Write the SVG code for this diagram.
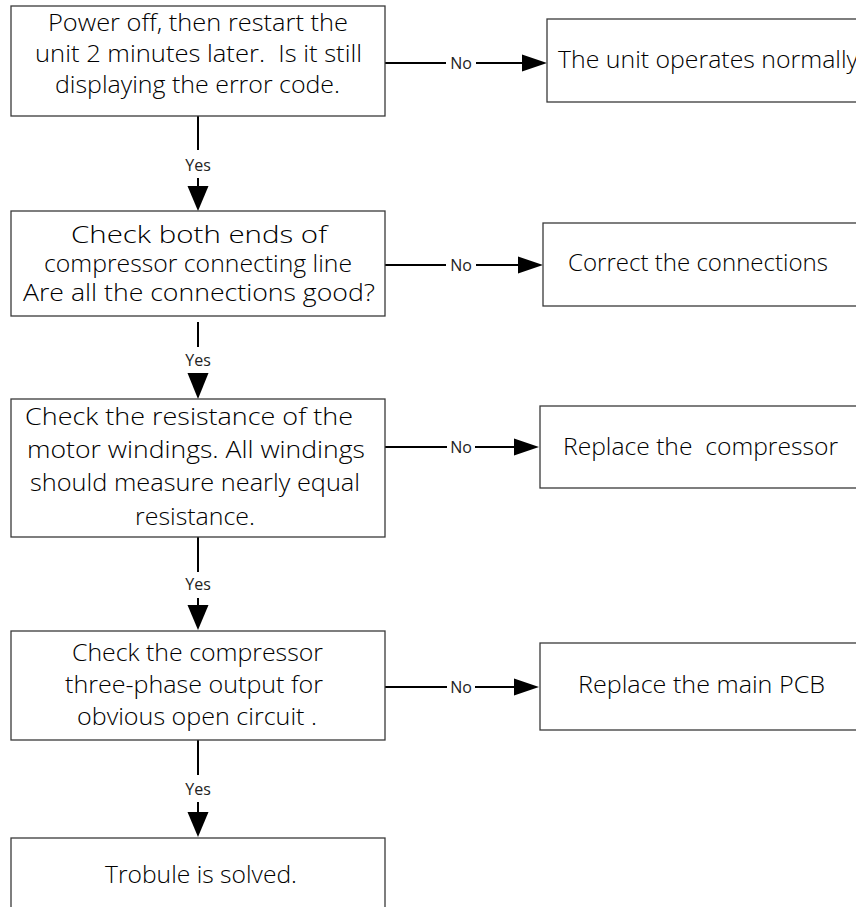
<svg xmlns="http://www.w3.org/2000/svg" width="856" height="907" viewBox="0 0 856 907">
<style>
.box{fill:#fff;stroke:#3a3a3a;stroke-width:1.3}
.t{font-family:"Open Sans","Noto Sans",sans-serif;font-size:23px;font-weight:300;fill:#000;white-space:pre}
.lbl{font-family:"Open Sans","Noto Sans",sans-serif;font-size:16px;font-weight:400;fill:#222;text-anchor:middle}
.ln{stroke:#000;stroke-width:2;fill:none}
.ah{fill:#000}
</style>
<rect width="856" height="907" fill="#fff"/>
<g id="connectors">
  <line class="ln" x1="385" y1="63" x2="446" y2="63"/>
  <text class="lbl" x="461" y="69">No</text>
  <line class="ln" x1="476" y1="63" x2="524" y2="63"/>
  <polygon class="ah" points="522,54.5 547,63 522,71.5"/>
  <line class="ln" x1="385" y1="265" x2="446" y2="265"/>
  <text class="lbl" x="461" y="271">No</text>
  <line class="ln" x1="476" y1="265" x2="520" y2="265"/>
  <polygon class="ah" points="518,256.5 543,265 518,273.5"/>
  <line class="ln" x1="385" y1="447" x2="447" y2="447"/>
  <text class="lbl" x="461" y="453">No</text>
  <line class="ln" x1="475" y1="447" x2="516" y2="447"/>
  <polygon class="ah" points="514,438.5 539,447 514,455.5"/>
  <line class="ln" x1="385" y1="687" x2="447" y2="687"/>
  <text class="lbl" x="461" y="693">No</text>
  <line class="ln" x1="475" y1="687" x2="516" y2="687"/>
  <polygon class="ah" points="514,678.5 539,687 514,695.5"/>
  <line class="ln" x1="198" y1="116" x2="198" y2="150"/>
  <text class="lbl" x="198" y="171">Yes</text>
  <line class="ln" x1="198" y1="178" x2="198" y2="188"/>
  <polygon class="ah" points="187.5,186 208.5,186 198,211"/>
  <line class="ln" x1="198" y1="322" x2="198" y2="347"/>
  <text class="lbl" x="198" y="366">Yes</text>
  <polygon class="ah" points="187.5,373 208.5,373 198,399"/>
  <line class="ln" x1="198" y1="537" x2="198" y2="572"/>
  <text class="lbl" x="198" y="590">Yes</text>
  <line class="ln" x1="198" y1="598" x2="198" y2="607"/>
  <polygon class="ah" points="187.5,605 208.5,605 198,630"/>
  <line class="ln" x1="198" y1="740" x2="198" y2="775"/>
  <text class="lbl" x="198" y="795">Yes</text>
  <line class="ln" x1="198" y1="802" x2="198" y2="814"/>
  <polygon class="ah" points="187.5,812 208.5,812 198,837"/>
</g>
<g id="n1">
  <rect class="box" x="11" y="6" width="374" height="110"/>
  <text class="t" x="48" y="31" textLength="300" lengthAdjust="spacingAndGlyphs">Power off, then restart the</text>
  <text class="t" x="35" y="62" textLength="327" lengthAdjust="spacingAndGlyphs">unit 2 minutes later.  Is it still</text>
  <text class="t" x="55" y="93" textLength="285" lengthAdjust="spacingAndGlyphs">displaying the error code.</text>
</g>
<g id="n1no">
  <rect class="box" x="547" y="19" width="330" height="83"/>
  <text class="t" x="558" y="68" textLength="300" lengthAdjust="spacingAndGlyphs">The unit operates normally</text>
</g>
<g id="n2">
  <rect class="box" x="11" y="211" width="374" height="105"/>
  <text class="t" x="71" y="243" textLength="256" lengthAdjust="spacingAndGlyphs">Check both ends of</text>
  <text class="t" x="44" y="272" textLength="308" lengthAdjust="spacingAndGlyphs">compressor connecting line</text>
  <text class="t" x="23" y="301" textLength="352" lengthAdjust="spacingAndGlyphs">Are all the connections good?</text>
</g>
<g id="n2no">
  <rect class="box" x="543" y="223" width="330" height="83"/>
  <text class="t" x="568" y="271" textLength="260" lengthAdjust="spacingAndGlyphs">Correct the connections</text>
</g>
<g id="n3">
  <rect class="box" x="11" y="399" width="374" height="138"/>
  <text class="t" x="25" y="425" textLength="328" lengthAdjust="spacingAndGlyphs">Check the resistance of the</text>
  <text class="t" x="27" y="458" textLength="338" lengthAdjust="spacingAndGlyphs">motor windings. All windings</text>
  <text class="t" x="30" y="491" textLength="330" lengthAdjust="spacingAndGlyphs">should measure nearly equal</text>
  <text class="t" x="135" y="525" textLength="120" lengthAdjust="spacingAndGlyphs">resistance.</text>
</g>
<g id="n3no">
  <rect class="box" x="540" y="406" width="330" height="82"/>
  <text class="t" x="563" y="455" textLength="275" lengthAdjust="spacingAndGlyphs">Replace the  compressor</text>
</g>
<g id="n4">
  <rect class="box" x="11" y="631" width="374" height="109"/>
  <text class="t" x="72" y="661" textLength="251" lengthAdjust="spacingAndGlyphs">Check the compressor</text>
  <text class="t" x="65" y="693" textLength="258" lengthAdjust="spacingAndGlyphs">three-phase output for</text>
  <text class="t" x="77" y="725" textLength="240" lengthAdjust="spacingAndGlyphs">obvious open circuit .</text>
</g>
<g id="n4no">
  <rect class="box" x="540" y="643" width="330" height="87"/>
  <text class="t" x="578" y="693" textLength="247" lengthAdjust="spacingAndGlyphs">Replace the main PCB</text>
</g>
<g id="n5">
  <rect class="box" x="11" y="838" width="374" height="90"/>
  <text class="t" x="105" y="883" textLength="192" lengthAdjust="spacingAndGlyphs">Trobule is solved.</text>
</g>
</svg>
